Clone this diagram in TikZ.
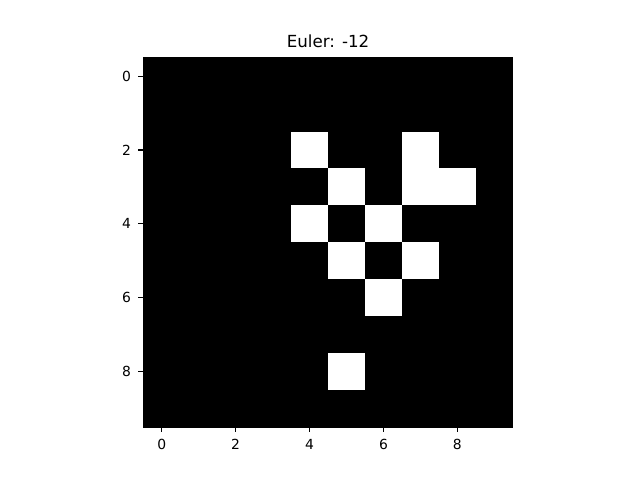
\documentclass[tikz,border=0pt]{standalone}
\usepackage{fontspec}
\setmainfont{DejaVu Sans}
\usetikzlibrary{positioning}
\usetikzlibrary{calc}

\begin{document}
\begin{tikzpicture}[x=0.72bp, y=-0.72bp,
  ticklabel/.style={inner sep=0pt, font=\fontsize{10bp}{12bp}\selectfont},
  pixel/.style={fill=white}]
	% Figure frame, in pixels
	\useasboundingbox (0,0) rectangle (640,480);
	\fill[white] (0,0) rectangle (640,480);

	% Set the origin and the cell size of the image
	\def\ox{143.2}
	\def\oy{57.6}
	\def\cell{36.96}

	% Black image
	\fill[black] (\ox,\oy) rectangle ++(10*\cell,10*\cell);

	% White pixels: column/row
	\foreach \c/\r in {4/2,7/2,5/3,7/3,8/3,4/4,6/4,5/5,7/5,6/6,5/8}
		{\fill[pixel] ({\ox+\c*\cell},{\oy+\r*\cell}) rectangle ++(\cell,\cell);}

	% Frame of the axes
	\draw[line width=0.8bp] (\ox,\oy) rectangle ++(10*\cell,10*\cell);

	% Ticks and their labels
	\foreach \i in {0,2,...,8}
		{\draw[line width=0.8bp] ({\ox+(\i+0.5)*\cell},{\oy+10*\cell}) -- ++(0,4.86)
			node[ticklabel, anchor=north, yshift=-4.86bp] (xt\i) {\i};
		 \draw[line width=0.8bp] (\ox,{\oy+(\i+0.5)*\cell}) -- ++(-4.86,0)
			node[ticklabel, anchor=east, xshift=-4.86bp] (yt\i) {\i};}

	% Title
	\node[inner sep=0pt, anchor=base, font=\fontsize{12bp}{14bp}\selectfont] (title)
		at ({\ox+5*\cell},48) {Euler: -12};
\end{tikzpicture}
\end{document}
